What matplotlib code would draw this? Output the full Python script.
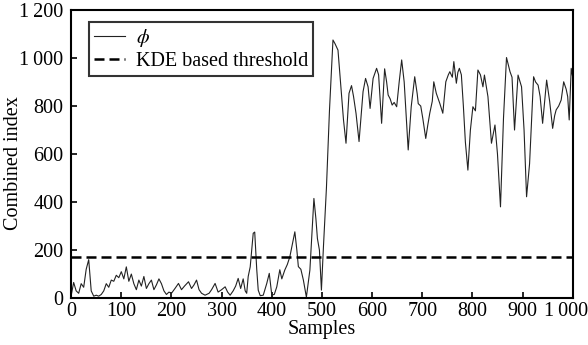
import numpy as np
import matplotlib
matplotlib.use('Agg')
from matplotlib import pyplot as plt
from matplotlib.ticker import FuncFormatter
from matplotlib.transforms import ScaledTranslation

# values
samples = [0, 5, 10, 15, 20, 25, 30, 35, 40, 45, 50, 55, 60, 65, 70, 75, 80, 85, 90, 95,
           100, 105, 110, 115, 120, 125, 130, 135, 140, 145, 150, 155, 160, 165, 170, 175,
           180, 185, 190, 195, 200, 207, 214, 220, 226, 234, 240, 245, 250, 255, 260, 267,
           275, 280, 287, 293, 300, 307, 312, 317, 323, 328, 333, 338, 343, 347, 350, 353,
           357, 363, 366, 370, 373, 377, 383, 390, 395, 400, 405, 410, 416, 420, 426, 431,
           436, 446, 450, 453, 458, 463, 469, 476, 484, 488, 491, 495, 499, 503, 509, 515,
           522, 526, 532, 537, 543, 548, 554, 559, 563, 568, 574, 582, 587, 592, 596, 602,
           609, 613, 619, 625, 629, 632, 636, 640, 644, 649, 654, 659, 664, 668, 672, 678,
           685, 690, 692, 697, 701, 707, 711, 715, 720, 723, 728, 735, 741, 747, 752, 755,
           760, 763, 768, 771, 774, 778, 782, 786, 791, 796, 801, 806, 811, 816, 821, 824,
           831, 838, 845, 850, 856, 862, 868, 875, 879, 884, 891, 898, 903, 908, 914, 922,
           926, 931, 935, 940, 948, 954, 960, 964, 967, 972, 977, 982, 987, 990, 993, 997, 1000]
phi = [10, 65, 30, 20, 60, 45, 120, 160, 30, 8, 12, 8, 15, 30, 60, 45, 75, 70, 95, 85,
       110, 80, 130, 70, 100, 60, 35, 75, 50, 90, 40, 60, 75, 35, 55, 80,
       60, 30, 15, 25, 20, 40, 61, 35, 50, 68, 40, 55, 75, 35, 20, 12,
       20, 35, 61, 25, 35, 47, 25, 12, 30, 50, 82, 40, 80, 30, 20, 90,
       130, 270, 275, 120, 33, 10, 12, 61, 103, 13, 15, 47, 118, 80, 117, 140,
       172, 276, 200, 131, 120, 75, 4, 117, 415, 330, 248, 200, 33, 213, 460, 780,
       1075, 1060, 1033, 900, 742, 645, 853, 885, 840, 769, 652, 860, 915, 880, 790, 915,
       957, 930, 728, 955, 900, 846, 830, 804, 815, 797, 900, 992, 900, 760, 617, 797,
       922, 850, 810, 800, 750, 665, 720, 770, 820, 901, 853, 811, 770, 901, 930, 943,
       920, 985, 895, 940, 957, 930, 800, 650, 533, 700, 797, 780, 950, 930, 880, 929,
       839, 645, 721, 600, 380, 750, 1002, 943, 920, 700, 929, 880, 700, 422, 560, 922,
       900, 887, 840, 728, 908, 820, 707, 760, 784, 800, 825, 901, 870, 839, 742, 957, 920]
threshold = 170

x_ticks = [0, 100, 200, 300, 400, 500, 600, 700, 800, 900, 1000]
y_ticks = [0, 200, 400, 600, 800, 1000, 1200]

plt.rcParams['font.family'] = ['Liberation Serif', 'DejaVu Serif']
plt.rcParams['mathtext.fontset'] = 'stix'
fs = 14.5


def thousands(v, pos):
    # 1000 -> "1 000" with a thin space
    return '{:,}'.format(int(v)).replace(',', '\u2009')


fig = plt.figure(figsize=(5.88, 3.45), dpi=100)
ax = fig.add_axes([0.121, 0.136, 0.853, 0.835])

ax.plot(samples, phi, color='#222222', linewidth=0.8, label=r'$\phi$')
ax.axhline(threshold, color='black', linewidth=1.8, linestyle=(0, (4, 2)),
           label='KDE based threshold')

ax.set_xlim(0, 1000)
ax.set_ylim(0, 1200)
ax.set_xticks(x_ticks)
ax.set_yticks(y_ticks)
ax.xaxis.set_major_formatter(FuncFormatter(thousands))
ax.yaxis.set_major_formatter(FuncFormatter(thousands))
ax.tick_params(direction='in', length=4, width=1.2, labelsize=fs)
ax.tick_params(axis='y', pad=5.5)
ax.tick_params(axis='x', pad=3)
for sp in ax.spines.values():
    sp.set_linewidth(1.5)

ax.set_xlabel('Samples', fontsize=fs, labelpad=-1)
ax.set_ylabel('Combined index', fontsize=fs)
ax.yaxis.set_label_coords(-0.095, 0.47)

# keep the last x label inside the figure
last = ax.get_xticklabels()[-1]
last.set_transform(last.get_transform() + ScaledTranslation(-0.07, 0, fig.dpi_scale_trans))

leg = ax.legend(loc='upper left', bbox_to_anchor=(0.036, 0.958), borderaxespad=0,
                fontsize=fs, frameon=True, fancybox=False, handlelength=1.55,
                borderpad=0.25, labelspacing=0.15, handletextpad=0.5)
leg.get_frame().set_edgecolor('black')
leg.get_frame().set_linewidth(1.5)

fig.savefig('out.png', dpi=100)
